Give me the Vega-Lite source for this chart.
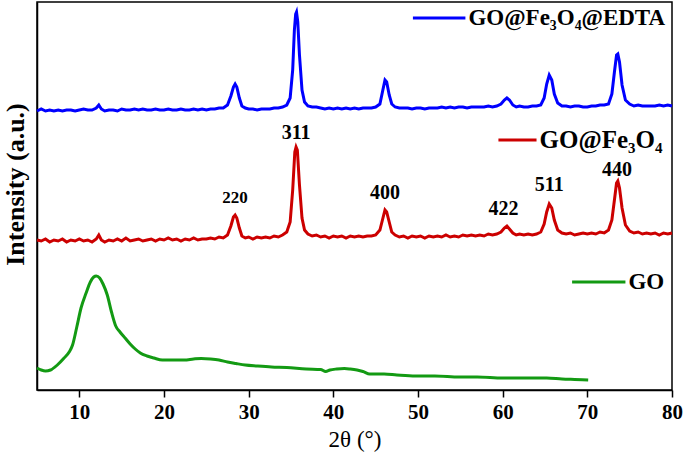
{
  "$schema": "https://vega.github.io/schema/vega-lite/v6.json",
  "autosize": {"type": "none"},
  "padding": {"left": 37, "top": 2, "right": 13, "bottom": 73},
  "width": 635,
  "height": 388,
  "background": "white",
  "config": {
    "view": {"stroke": "black", "strokeWidth": 1.5},
    "axis": {"grid": false, "domainColor": "black", "domainWidth": 1.5, "tickColor": "black", "tickWidth": 1.5, "labelColor": "black", "titleColor": "black", "labelFont": "Liberation Serif", "titleFont": "Liberation Serif"}
  },
  "datasets": {
    "fe": [
      {"sample":"EDTA","two_theta":5.0,"intensity":279},{"sample":"EDTA","two_theta":5.5,"intensity":281},{"sample":"EDTA","two_theta":6.0,"intensity":279},{"sample":"EDTA","two_theta":6.5,"intensity":280},{"sample":"EDTA","two_theta":7.0,"intensity":279},{"sample":"EDTA","two_theta":7.5,"intensity":280},{"sample":"EDTA","two_theta":8.0,"intensity":279},{"sample":"EDTA","two_theta":8.5,"intensity":280},{"sample":"EDTA","two_theta":9.0,"intensity":280},{"sample":"EDTA","two_theta":9.5,"intensity":279},{"sample":"EDTA","two_theta":10.0,"intensity":280},{"sample":"EDTA","two_theta":10.5,"intensity":281},{"sample":"EDTA","two_theta":11.0,"intensity":280},{"sample":"EDTA","two_theta":11.5,"intensity":280},{"sample":"EDTA","two_theta":12.0,"intensity":282},{"sample":"EDTA","two_theta":12.3,"intensity":285},{"sample":"EDTA","two_theta":12.6,"intensity":281},{"sample":"EDTA","two_theta":13.0,"intensity":279},{"sample":"EDTA","two_theta":13.5,"intensity":280},{"sample":"EDTA","two_theta":14.0,"intensity":280},{"sample":"EDTA","two_theta":14.5,"intensity":279},{"sample":"EDTA","two_theta":15.0,"intensity":281},{"sample":"EDTA","two_theta":15.5,"intensity":280},{"sample":"EDTA","two_theta":16.0,"intensity":280},{"sample":"EDTA","two_theta":16.5,"intensity":281},{"sample":"EDTA","two_theta":17.0,"intensity":280},{"sample":"EDTA","two_theta":17.5,"intensity":281},{"sample":"EDTA","two_theta":18.0,"intensity":280},{"sample":"EDTA","two_theta":18.5,"intensity":280},{"sample":"EDTA","two_theta":19.0,"intensity":281},{"sample":"EDTA","two_theta":19.5,"intensity":280},{"sample":"EDTA","two_theta":20.0,"intensity":280},{"sample":"EDTA","two_theta":20.5,"intensity":281},{"sample":"EDTA","two_theta":21.0,"intensity":280},{"sample":"EDTA","two_theta":21.5,"intensity":280},{"sample":"EDTA","two_theta":22.0,"intensity":281},{"sample":"EDTA","two_theta":22.5,"intensity":280},{"sample":"EDTA","two_theta":23.0,"intensity":280},{"sample":"EDTA","two_theta":23.5,"intensity":281},{"sample":"EDTA","two_theta":24.0,"intensity":280},{"sample":"EDTA","two_theta":24.5,"intensity":281},{"sample":"EDTA","two_theta":25.0,"intensity":280},{"sample":"EDTA","two_theta":25.5,"intensity":281},{"sample":"EDTA","two_theta":26.0,"intensity":281},{"sample":"EDTA","two_theta":26.5,"intensity":282},{"sample":"EDTA","two_theta":27.0,"intensity":282},{"sample":"EDTA","two_theta":27.5,"intensity":285},{"sample":"EDTA","two_theta":27.9,"intensity":294},{"sample":"EDTA","two_theta":28.2,"intensity":303},{"sample":"EDTA","two_theta":28.4,"intensity":306},{"sample":"EDTA","two_theta":28.6,"intensity":303},{"sample":"EDTA","two_theta":28.9,"intensity":292},{"sample":"EDTA","two_theta":29.2,"intensity":284},{"sample":"EDTA","two_theta":29.6,"intensity":282},{"sample":"EDTA","two_theta":30.0,"intensity":281},{"sample":"EDTA","two_theta":30.5,"intensity":281},{"sample":"EDTA","two_theta":31.0,"intensity":280},{"sample":"EDTA","two_theta":31.5,"intensity":281},{"sample":"EDTA","two_theta":32.0,"intensity":281},{"sample":"EDTA","two_theta":32.5,"intensity":281},{"sample":"EDTA","two_theta":33.0,"intensity":282},{"sample":"EDTA","two_theta":33.5,"intensity":282},{"sample":"EDTA","two_theta":34.0,"intensity":283},{"sample":"EDTA","two_theta":34.5,"intensity":285},{"sample":"EDTA","two_theta":34.9,"intensity":292},{"sample":"EDTA","two_theta":35.2,"intensity":320},{"sample":"EDTA","two_theta":35.4,"intensity":360},{"sample":"EDTA","two_theta":35.55,"intensity":376},{"sample":"EDTA","two_theta":35.65,"intensity":378},{"sample":"EDTA","two_theta":35.8,"intensity":368},{"sample":"EDTA","two_theta":36.0,"intensity":335},{"sample":"EDTA","two_theta":36.3,"intensity":300},{"sample":"EDTA","two_theta":36.6,"intensity":288},{"sample":"EDTA","two_theta":37.0,"intensity":284},{"sample":"EDTA","two_theta":37.5,"intensity":283},{"sample":"EDTA","two_theta":38.0,"intensity":283},{"sample":"EDTA","two_theta":38.5,"intensity":282},{"sample":"EDTA","two_theta":39.0,"intensity":281},{"sample":"EDTA","two_theta":39.5,"intensity":282},{"sample":"EDTA","two_theta":40.0,"intensity":281},{"sample":"EDTA","two_theta":40.5,"intensity":282},{"sample":"EDTA","two_theta":41.0,"intensity":281},{"sample":"EDTA","two_theta":41.5,"intensity":282},{"sample":"EDTA","two_theta":42.0,"intensity":281},{"sample":"EDTA","two_theta":42.5,"intensity":282},{"sample":"EDTA","two_theta":43.0,"intensity":281},{"sample":"EDTA","two_theta":43.5,"intensity":282},{"sample":"EDTA","two_theta":44.0,"intensity":282},{"sample":"EDTA","two_theta":44.5,"intensity":282},{"sample":"EDTA","two_theta":45.0,"intensity":283},{"sample":"EDTA","two_theta":45.5,"intensity":286},{"sample":"EDTA","two_theta":45.8,"intensity":298},{"sample":"EDTA","two_theta":46.1,"intensity":310},{"sample":"EDTA","two_theta":46.3,"intensity":308},{"sample":"EDTA","two_theta":46.6,"intensity":295},{"sample":"EDTA","two_theta":46.9,"intensity":286},{"sample":"EDTA","two_theta":47.3,"intensity":283},{"sample":"EDTA","two_theta":47.8,"intensity":282},{"sample":"EDTA","two_theta":48.3,"intensity":282},{"sample":"EDTA","two_theta":48.8,"intensity":282},{"sample":"EDTA","two_theta":49.3,"intensity":281},{"sample":"EDTA","two_theta":49.8,"intensity":282},{"sample":"EDTA","two_theta":50.3,"intensity":282},{"sample":"EDTA","two_theta":50.8,"intensity":281},{"sample":"EDTA","two_theta":51.3,"intensity":282},{"sample":"EDTA","two_theta":51.8,"intensity":282},{"sample":"EDTA","two_theta":52.3,"intensity":282},{"sample":"EDTA","two_theta":52.8,"intensity":283},{"sample":"EDTA","two_theta":53.3,"intensity":282},{"sample":"EDTA","two_theta":53.8,"intensity":283},{"sample":"EDTA","two_theta":54.3,"intensity":282},{"sample":"EDTA","two_theta":54.8,"intensity":283},{"sample":"EDTA","two_theta":55.3,"intensity":283},{"sample":"EDTA","two_theta":55.8,"intensity":282},{"sample":"EDTA","two_theta":56.3,"intensity":283},{"sample":"EDTA","two_theta":56.8,"intensity":283},{"sample":"EDTA","two_theta":57.3,"intensity":283},{"sample":"EDTA","two_theta":57.8,"intensity":283},{"sample":"EDTA","two_theta":58.3,"intensity":284},{"sample":"EDTA","two_theta":58.8,"intensity":283},{"sample":"EDTA","two_theta":59.3,"intensity":284},{"sample":"EDTA","two_theta":59.8,"intensity":286},{"sample":"EDTA","two_theta":60.2,"intensity":290},{"sample":"EDTA","two_theta":60.5,"intensity":292},{"sample":"EDTA","two_theta":60.8,"intensity":290},{"sample":"EDTA","two_theta":61.2,"intensity":285},{"sample":"EDTA","two_theta":61.6,"intensity":283},{"sample":"EDTA","two_theta":62.0,"intensity":284},{"sample":"EDTA","two_theta":62.5,"intensity":283},{"sample":"EDTA","two_theta":63.0,"intensity":283},{"sample":"EDTA","two_theta":63.5,"intensity":284},{"sample":"EDTA","two_theta":64.0,"intensity":284},{"sample":"EDTA","two_theta":64.5,"intensity":285},{"sample":"EDTA","two_theta":64.9,"intensity":292},{"sample":"EDTA","two_theta":65.2,"intensity":306},{"sample":"EDTA","two_theta":65.5,"intensity":315},{"sample":"EDTA","two_theta":65.8,"intensity":310},{"sample":"EDTA","two_theta":66.1,"intensity":296},{"sample":"EDTA","two_theta":66.5,"intensity":287},{"sample":"EDTA","two_theta":67.0,"intensity":284},{"sample":"EDTA","two_theta":67.5,"intensity":284},{"sample":"EDTA","two_theta":68.0,"intensity":283},{"sample":"EDTA","two_theta":68.5,"intensity":284},{"sample":"EDTA","two_theta":69.0,"intensity":284},{"sample":"EDTA","two_theta":69.5,"intensity":283},{"sample":"EDTA","two_theta":70.0,"intensity":283},{"sample":"EDTA","two_theta":70.5,"intensity":284},{"sample":"EDTA","two_theta":71.0,"intensity":284},{"sample":"EDTA","two_theta":71.5,"intensity":285},{"sample":"EDTA","two_theta":72.0,"intensity":285},{"sample":"EDTA","two_theta":72.5,"intensity":286},{"sample":"EDTA","two_theta":72.9,"intensity":296},{"sample":"EDTA","two_theta":73.2,"intensity":318},{"sample":"EDTA","two_theta":73.45,"intensity":335},{"sample":"EDTA","two_theta":73.6,"intensity":336},{"sample":"EDTA","two_theta":73.8,"intensity":328},{"sample":"EDTA","two_theta":74.1,"intensity":305},{"sample":"EDTA","two_theta":74.5,"intensity":290},{"sample":"EDTA","two_theta":75.0,"intensity":286},{"sample":"EDTA","two_theta":75.5,"intensity":284},{"sample":"EDTA","two_theta":76.0,"intensity":285},{"sample":"EDTA","two_theta":76.5,"intensity":284},{"sample":"EDTA","two_theta":77.0,"intensity":284},{"sample":"EDTA","two_theta":77.5,"intensity":284},{"sample":"EDTA","two_theta":78.0,"intensity":284},{"sample":"EDTA","two_theta":78.5,"intensity":285},{"sample":"EDTA","two_theta":79.0,"intensity":284},{"sample":"EDTA","two_theta":79.5,"intensity":285},{"sample":"EDTA","two_theta":80.0,"intensity":284},
      {"sample":"Fe3O4","two_theta":5.0,"intensity":150},{"sample":"Fe3O4","two_theta":5.5,"intensity":149},{"sample":"Fe3O4","two_theta":6.0,"intensity":151},{"sample":"Fe3O4","two_theta":6.5,"intensity":148},{"sample":"Fe3O4","two_theta":7.0,"intensity":150},{"sample":"Fe3O4","two_theta":7.5,"intensity":149},{"sample":"Fe3O4","two_theta":8.0,"intensity":151},{"sample":"Fe3O4","two_theta":8.5,"intensity":148},{"sample":"Fe3O4","two_theta":9.0,"intensity":150},{"sample":"Fe3O4","two_theta":9.5,"intensity":149},{"sample":"Fe3O4","two_theta":10.0,"intensity":151},{"sample":"Fe3O4","two_theta":10.5,"intensity":149},{"sample":"Fe3O4","two_theta":11.0,"intensity":150},{"sample":"Fe3O4","two_theta":11.5,"intensity":148},{"sample":"Fe3O4","two_theta":12.0,"intensity":151},{"sample":"Fe3O4","two_theta":12.3,"intensity":155},{"sample":"Fe3O4","two_theta":12.6,"intensity":150},{"sample":"Fe3O4","two_theta":13.0,"intensity":148},{"sample":"Fe3O4","two_theta":13.5,"intensity":150},{"sample":"Fe3O4","two_theta":14.0,"intensity":149},{"sample":"Fe3O4","two_theta":14.5,"intensity":151},{"sample":"Fe3O4","two_theta":15.0,"intensity":149},{"sample":"Fe3O4","two_theta":15.5,"intensity":152},{"sample":"Fe3O4","two_theta":16.0,"intensity":149},{"sample":"Fe3O4","two_theta":16.5,"intensity":150},{"sample":"Fe3O4","two_theta":17.0,"intensity":151},{"sample":"Fe3O4","two_theta":17.5,"intensity":149},{"sample":"Fe3O4","two_theta":18.0,"intensity":150},{"sample":"Fe3O4","two_theta":18.5,"intensity":151},{"sample":"Fe3O4","two_theta":19.0,"intensity":149},{"sample":"Fe3O4","two_theta":19.5,"intensity":151},{"sample":"Fe3O4","two_theta":20.0,"intensity":150},{"sample":"Fe3O4","two_theta":20.5,"intensity":152},{"sample":"Fe3O4","two_theta":21.0,"intensity":150},{"sample":"Fe3O4","two_theta":21.5,"intensity":151},{"sample":"Fe3O4","two_theta":22.0,"intensity":149},{"sample":"Fe3O4","two_theta":22.5,"intensity":151},{"sample":"Fe3O4","two_theta":23.0,"intensity":150},{"sample":"Fe3O4","two_theta":23.5,"intensity":152},{"sample":"Fe3O4","two_theta":24.0,"intensity":150},{"sample":"Fe3O4","two_theta":24.5,"intensity":151},{"sample":"Fe3O4","two_theta":25.0,"intensity":151},{"sample":"Fe3O4","two_theta":25.5,"intensity":152},{"sample":"Fe3O4","two_theta":26.0,"intensity":151},{"sample":"Fe3O4","two_theta":26.5,"intensity":153},{"sample":"Fe3O4","two_theta":27.0,"intensity":152},{"sample":"Fe3O4","two_theta":27.5,"intensity":155},{"sample":"Fe3O4","two_theta":27.9,"intensity":164},{"sample":"Fe3O4","two_theta":28.2,"intensity":173},{"sample":"Fe3O4","two_theta":28.4,"intensity":175},{"sample":"Fe3O4","two_theta":28.6,"intensity":172},{"sample":"Fe3O4","two_theta":28.9,"intensity":162},{"sample":"Fe3O4","two_theta":29.2,"intensity":154},{"sample":"Fe3O4","two_theta":29.6,"intensity":152},{"sample":"Fe3O4","two_theta":30.0,"intensity":153},{"sample":"Fe3O4","two_theta":30.5,"intensity":151},{"sample":"Fe3O4","two_theta":31.0,"intensity":153},{"sample":"Fe3O4","two_theta":31.5,"intensity":152},{"sample":"Fe3O4","two_theta":32.0,"intensity":153},{"sample":"Fe3O4","two_theta":32.5,"intensity":152},{"sample":"Fe3O4","two_theta":33.0,"intensity":154},{"sample":"Fe3O4","two_theta":33.5,"intensity":153},{"sample":"Fe3O4","two_theta":34.0,"intensity":155},{"sample":"Fe3O4","two_theta":34.5,"intensity":158},{"sample":"Fe3O4","two_theta":34.9,"intensity":168},{"sample":"Fe3O4","two_theta":35.2,"intensity":200},{"sample":"Fe3O4","two_theta":35.45,"intensity":238},{"sample":"Fe3O4","two_theta":35.6,"intensity":243},{"sample":"Fe3O4","two_theta":35.75,"intensity":240},{"sample":"Fe3O4","two_theta":36.0,"intensity":205},{"sample":"Fe3O4","two_theta":36.3,"intensity":172},{"sample":"Fe3O4","two_theta":36.6,"intensity":160},{"sample":"Fe3O4","two_theta":37.0,"intensity":156},{"sample":"Fe3O4","two_theta":37.5,"intensity":154},{"sample":"Fe3O4","two_theta":38.0,"intensity":155},{"sample":"Fe3O4","two_theta":38.5,"intensity":153},{"sample":"Fe3O4","two_theta":39.0,"intensity":154},{"sample":"Fe3O4","two_theta":39.5,"intensity":152},{"sample":"Fe3O4","two_theta":40.0,"intensity":154},{"sample":"Fe3O4","two_theta":40.5,"intensity":153},{"sample":"Fe3O4","two_theta":41.0,"intensity":154},{"sample":"Fe3O4","two_theta":41.5,"intensity":152},{"sample":"Fe3O4","two_theta":42.0,"intensity":154},{"sample":"Fe3O4","two_theta":42.5,"intensity":153},{"sample":"Fe3O4","two_theta":43.0,"intensity":154},{"sample":"Fe3O4","two_theta":43.5,"intensity":153},{"sample":"Fe3O4","two_theta":44.0,"intensity":154},{"sample":"Fe3O4","two_theta":44.5,"intensity":154},{"sample":"Fe3O4","two_theta":45.0,"intensity":155},{"sample":"Fe3O4","two_theta":45.5,"intensity":160},{"sample":"Fe3O4","two_theta":45.8,"intensity":170},{"sample":"Fe3O4","two_theta":46.1,"intensity":180},{"sample":"Fe3O4","two_theta":46.3,"intensity":178},{"sample":"Fe3O4","two_theta":46.6,"intensity":168},{"sample":"Fe3O4","two_theta":46.9,"intensity":158},{"sample":"Fe3O4","two_theta":47.3,"intensity":155},{"sample":"Fe3O4","two_theta":47.8,"intensity":153},{"sample":"Fe3O4","two_theta":48.3,"intensity":154},{"sample":"Fe3O4","two_theta":48.8,"intensity":152},{"sample":"Fe3O4","two_theta":49.3,"intensity":154},{"sample":"Fe3O4","two_theta":49.8,"intensity":153},{"sample":"Fe3O4","two_theta":50.3,"intensity":154},{"sample":"Fe3O4","two_theta":50.8,"intensity":152},{"sample":"Fe3O4","two_theta":51.3,"intensity":154},{"sample":"Fe3O4","two_theta":51.8,"intensity":153},{"sample":"Fe3O4","two_theta":52.3,"intensity":154},{"sample":"Fe3O4","two_theta":52.8,"intensity":153},{"sample":"Fe3O4","two_theta":53.3,"intensity":155},{"sample":"Fe3O4","two_theta":53.8,"intensity":153},{"sample":"Fe3O4","two_theta":54.3,"intensity":154},{"sample":"Fe3O4","two_theta":54.8,"intensity":153},{"sample":"Fe3O4","two_theta":55.3,"intensity":155},{"sample":"Fe3O4","two_theta":55.8,"intensity":154},{"sample":"Fe3O4","two_theta":56.3,"intensity":155},{"sample":"Fe3O4","two_theta":56.8,"intensity":154},{"sample":"Fe3O4","two_theta":57.3,"intensity":155},{"sample":"Fe3O4","two_theta":57.8,"intensity":154},{"sample":"Fe3O4","two_theta":58.3,"intensity":156},{"sample":"Fe3O4","two_theta":58.8,"intensity":155},{"sample":"Fe3O4","two_theta":59.3,"intensity":156},{"sample":"Fe3O4","two_theta":59.8,"intensity":158},{"sample":"Fe3O4","two_theta":60.2,"intensity":162},{"sample":"Fe3O4","two_theta":60.5,"intensity":164},{"sample":"Fe3O4","two_theta":60.8,"intensity":161},{"sample":"Fe3O4","two_theta":61.2,"intensity":157},{"sample":"Fe3O4","two_theta":61.6,"intensity":155},{"sample":"Fe3O4","two_theta":62.0,"intensity":156},{"sample":"Fe3O4","two_theta":62.5,"intensity":155},{"sample":"Fe3O4","two_theta":63.0,"intensity":156},{"sample":"Fe3O4","two_theta":63.5,"intensity":155},{"sample":"Fe3O4","two_theta":64.0,"intensity":156},{"sample":"Fe3O4","two_theta":64.5,"intensity":158},{"sample":"Fe3O4","two_theta":64.9,"intensity":166},{"sample":"Fe3O4","two_theta":65.2,"intensity":178},{"sample":"Fe3O4","two_theta":65.5,"intensity":186},{"sample":"Fe3O4","two_theta":65.8,"intensity":182},{"sample":"Fe3O4","two_theta":66.1,"intensity":170},{"sample":"Fe3O4","two_theta":66.5,"intensity":160},{"sample":"Fe3O4","two_theta":67.0,"intensity":157},{"sample":"Fe3O4","two_theta":67.5,"intensity":156},{"sample":"Fe3O4","two_theta":68.0,"intensity":157},{"sample":"Fe3O4","two_theta":68.5,"intensity":155},{"sample":"Fe3O4","two_theta":69.0,"intensity":156},{"sample":"Fe3O4","two_theta":69.5,"intensity":157},{"sample":"Fe3O4","two_theta":70.0,"intensity":156},{"sample":"Fe3O4","two_theta":70.5,"intensity":157},{"sample":"Fe3O4","two_theta":71.0,"intensity":156},{"sample":"Fe3O4","two_theta":71.5,"intensity":158},{"sample":"Fe3O4","two_theta":72.0,"intensity":157},{"sample":"Fe3O4","two_theta":72.5,"intensity":160},{"sample":"Fe3O4","two_theta":72.9,"intensity":170},{"sample":"Fe3O4","two_theta":73.2,"intensity":190},{"sample":"Fe3O4","two_theta":73.45,"intensity":207},{"sample":"Fe3O4","two_theta":73.6,"intensity":209},{"sample":"Fe3O4","two_theta":73.8,"intensity":202},{"sample":"Fe3O4","two_theta":74.1,"intensity":182},{"sample":"Fe3O4","two_theta":74.5,"intensity":165},{"sample":"Fe3O4","two_theta":75.0,"intensity":159},{"sample":"Fe3O4","two_theta":75.5,"intensity":157},{"sample":"Fe3O4","two_theta":76.0,"intensity":158},{"sample":"Fe3O4","two_theta":76.5,"intensity":156},{"sample":"Fe3O4","two_theta":77.0,"intensity":157},{"sample":"Fe3O4","two_theta":77.5,"intensity":156},{"sample":"Fe3O4","two_theta":78.0,"intensity":157},{"sample":"Fe3O4","two_theta":78.5,"intensity":155},{"sample":"Fe3O4","two_theta":79.0,"intensity":157},{"sample":"Fe3O4","two_theta":79.5,"intensity":156},{"sample":"Fe3O4","two_theta":80.0,"intensity":157}
    ],
    "go": [
      {"sample":"GO","two_theta":5.0,"intensity":22},{"sample":"GO","two_theta":5.5,"intensity":20},{"sample":"GO","two_theta":6.0,"intensity":19},{"sample":"GO","two_theta":6.6,"intensity":20},{"sample":"GO","two_theta":7.4,"intensity":25},{"sample":"GO","two_theta":8.2,"intensity":32},{"sample":"GO","two_theta":8.8,"intensity":38},{"sample":"GO","two_theta":9.2,"intensity":45},{"sample":"GO","two_theta":9.7,"intensity":63},{"sample":"GO","two_theta":10.2,"intensity":82},{"sample":"GO","two_theta":10.8,"intensity":97},{"sample":"GO","two_theta":11.3,"intensity":108},{"sample":"GO","two_theta":11.7,"intensity":113},{"sample":"GO","two_theta":12.0,"intensity":114},{"sample":"GO","two_theta":12.4,"intensity":112},{"sample":"GO","two_theta":12.8,"intensity":106},{"sample":"GO","two_theta":13.3,"intensity":95},{"sample":"GO","two_theta":13.8,"intensity":78},{"sample":"GO","two_theta":14.3,"intensity":64},{"sample":"GO","two_theta":14.8,"intensity":58},{"sample":"GO","two_theta":15.4,"intensity":52},{"sample":"GO","two_theta":16.0,"intensity":46},{"sample":"GO","two_theta":16.6,"intensity":41},{"sample":"GO","two_theta":17.2,"intensity":37},{"sample":"GO","two_theta":18.0,"intensity":34},{"sample":"GO","two_theta":18.8,"intensity":32},{"sample":"GO","two_theta":19.8,"intensity":30},{"sample":"GO","two_theta":21.0,"intensity":30},{"sample":"GO","two_theta":22.4,"intensity":30},{"sample":"GO","two_theta":23.5,"intensity":31},{"sample":"GO","two_theta":24.4,"intensity":31.5},{"sample":"GO","two_theta":25.5,"intensity":31},{"sample":"GO","two_theta":26.5,"intensity":30},{"sample":"GO","two_theta":27.5,"intensity":28},{"sample":"GO","two_theta":28.5,"intensity":26.5},{"sample":"GO","two_theta":29.6,"intensity":25},{"sample":"GO","two_theta":31.0,"intensity":24},{"sample":"GO","two_theta":32.7,"intensity":23},{"sample":"GO","two_theta":34.5,"intensity":22.5},{"sample":"GO","two_theta":36.8,"intensity":21},{"sample":"GO","two_theta":38.5,"intensity":20.5},{"sample":"GO","two_theta":39.1,"intensity":18.5},{"sample":"GO","two_theta":39.6,"intensity":20},{"sample":"GO","two_theta":40.4,"intensity":21},{"sample":"GO","two_theta":41.3,"intensity":21.5},{"sample":"GO","two_theta":42.0,"intensity":21},{"sample":"GO","two_theta":42.8,"intensity":20},{"sample":"GO","two_theta":43.5,"intensity":18.5},{"sample":"GO","two_theta":44.3,"intensity":16},{"sample":"GO","two_theta":44.8,"intensity":16},{"sample":"GO","two_theta":46.0,"intensity":16},{"sample":"GO","two_theta":47.5,"intensity":15},{"sample":"GO","two_theta":49.7,"intensity":14},{"sample":"GO","two_theta":52.0,"intensity":14},{"sample":"GO","two_theta":54.9,"intensity":13},{"sample":"GO","two_theta":57.0,"intensity":13},{"sample":"GO","two_theta":60.0,"intensity":12},{"sample":"GO","two_theta":63.0,"intensity":12},{"sample":"GO","two_theta":65.2,"intensity":12},{"sample":"GO","two_theta":67.0,"intensity":11},{"sample":"GO","two_theta":68.5,"intensity":10.5},{"sample":"GO","two_theta":70.1,"intensity":10}
    ],
    "peaks": [
      {"label":"220","two_theta":28.4,"intensity":192,"size":17},
      {"label":"311","two_theta":35.6,"intensity":257,"size":20},
      {"label":"400","two_theta":46.1,"intensity":197,"size":20},
      {"label":"422","two_theta":60.1,"intensity":181,"size":20},
      {"label":"511","two_theta":65.5,"intensity":205,"size":20},
      {"label":"440","two_theta":73.5,"intensity":220,"size":20}
    ],
    "legend": [
      {"sample":"EDTA","name":"GO@Fe₃O₄@EDTA","start":49.4,"end":55.6,"intensity":372,"size":23},
      {"sample":"Fe3O4","name":"GO@Fe₃O₄","start":59.5,"end":64.0,"intensity":250,"size":25},
      {"sample":"GO","name":"GO","start":68.2,"end":74.5,"intensity":108,"size":23}
    ]
  },
  "encoding": {
    "x": {"field": "two_theta", "type": "quantitative", "scale": {"domain": [5, 80], "nice": false, "zero": false},
      "axis": {"values": [10, 20, 30, 40, 50, 60, 70, 80], "tickSize": 7, "labelFont": "Liberation Serif", "labelFontSize": 21, "labelFontWeight": "bold", "labelPadding": 4, "labelFlush": false, "labelOverlap": false, "title": "2θ (°)", "titleFont": "Liberation Serif", "titleFontSize": 23, "titleFontWeight": "normal", "titlePadding": 6}},
    "y": {"field": "intensity", "type": "quantitative", "scale": {"domain": [0, 388], "nice": false, "zero": false},
      "axis": {"labels": false, "ticks": false, "title": "Intensity (a.u.)", "titleFont": "Liberation Serif", "titleFontSize": 26, "titleFontWeight": "bold", "titleX": -14, "titleY": 182, "titleBaseline": "alphabetic", "titleAngle": -90}},
    "color": {"field": "sample", "type": "nominal", "scale": {"domain": ["EDTA", "Fe3O4", "GO"], "range": ["#0000FF", "#CC0000", "#139A13"]}, "legend": null}
  },
  "layer": [
    {"data": {"name": "fe"}, "mark": {"type": "line", "strokeWidth": 3, "interpolate": "linear"}, "encoding": {"detail": {"field": "sample"}}},
    {"data": {"name": "go"}, "mark": {"type": "line", "strokeWidth": 3, "interpolate": "monotone"}, "encoding": {}},
    {"data": {"name": "peaks"}, "mark": {"type": "text", "font": "Liberation Serif", "fontWeight": "bold", "baseline": "middle", "align": "center"},
      "encoding": {"text": {"field": "label"}, "size": {"field": "size", "type": "quantitative", "scale": null}, "color": {"value": "black"}}},
    {"data": {"name": "legend"}, "mark": {"type": "rule", "strokeWidth": 3},
      "encoding": {"x": {"field": "start", "type": "quantitative"}, "x2": {"field": "end"}}},
    {"data": {"name": "legend"}, "mark": {"type": "text", "font": "Liberation Serif", "fontWeight": "bold", "align": "left", "baseline": "middle", "dx": 3},
      "encoding": {"x": {"field": "end", "type": "quantitative"}, "text": {"field": "name"}, "size": {"field": "size", "type": "quantitative", "scale": null}, "color": {"value": "black"}}}
  ]
}
